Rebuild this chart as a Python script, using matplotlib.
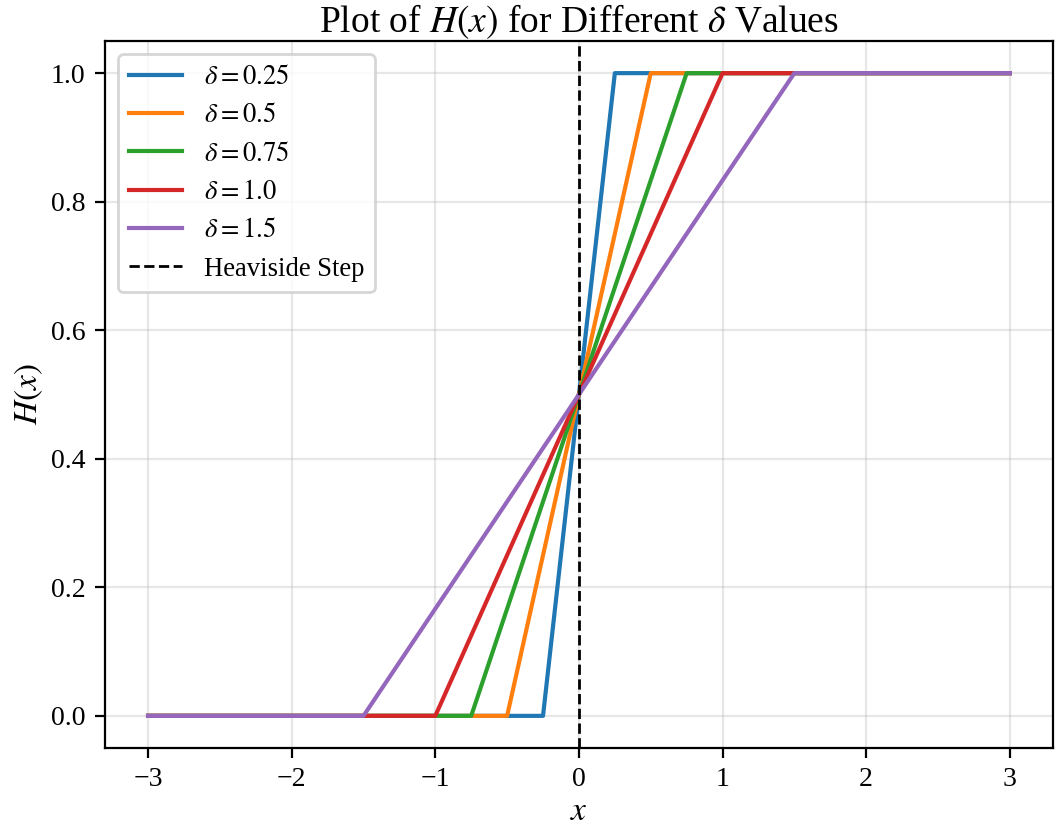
import numpy as np
import matplotlib
matplotlib.use("Agg")
import matplotlib.pyplot as plt

plt.rcParams['font.family'] = ['Liberation Serif', 'DejaVu Serif']
plt.rcParams['mathtext.fontset'] = 'stix'
plt.rcParams['font.size'] = 10

# breakpoints of each ramp
deltas = [0.25, 0.5, 0.75, 1.0, 1.5]
labels = [r'$\delta = 0.25$', r'$\delta = 0.5$', r'$\delta = 0.75$',
          r'$\delta = 1.0$', r'$\delta = 1.5$']
x_pts = [[-3, -0.25, 0.25, 3],
         [-3, -0.5, 0.5, 3],
         [-3, -0.75, 0.75, 3],
         [-3, -1.0, 1.0, 3],
         [-3, -1.5, 1.5, 3]]
y_pts = [0, 0, 1, 1]
colors = ['#1f77b4', '#ff7f0e', '#2ca02c', '#d62728', '#9467bd']

fig = plt.figure(figsize=(5.275, 4.15), dpi=200)
ax = fig.add_axes([0.0995, 0.0988, 0.8985, 0.8518])

for xs, lab, c in zip(x_pts, labels, colors):
    ax.plot(xs, y_pts, color=c, lw=1.5, label=lab)

ax.axvline(0, color='k', ls='--', lw=1.0, label='Heaviside Step')

ax.set_title(r'Plot of $H(x)$ for Different $\delta$ Values', fontsize=13.5, pad=3)
ax.set_xlabel(r'$x$', fontsize=12, labelpad=1.5)
ax.set_ylabel(r'$H(x)$', fontsize=12, labelpad=2)
ax.grid(True, alpha=0.3)
ax.legend(loc='upper left', fontsize=9.6)

fig.savefig('out.png', dpi=200)
